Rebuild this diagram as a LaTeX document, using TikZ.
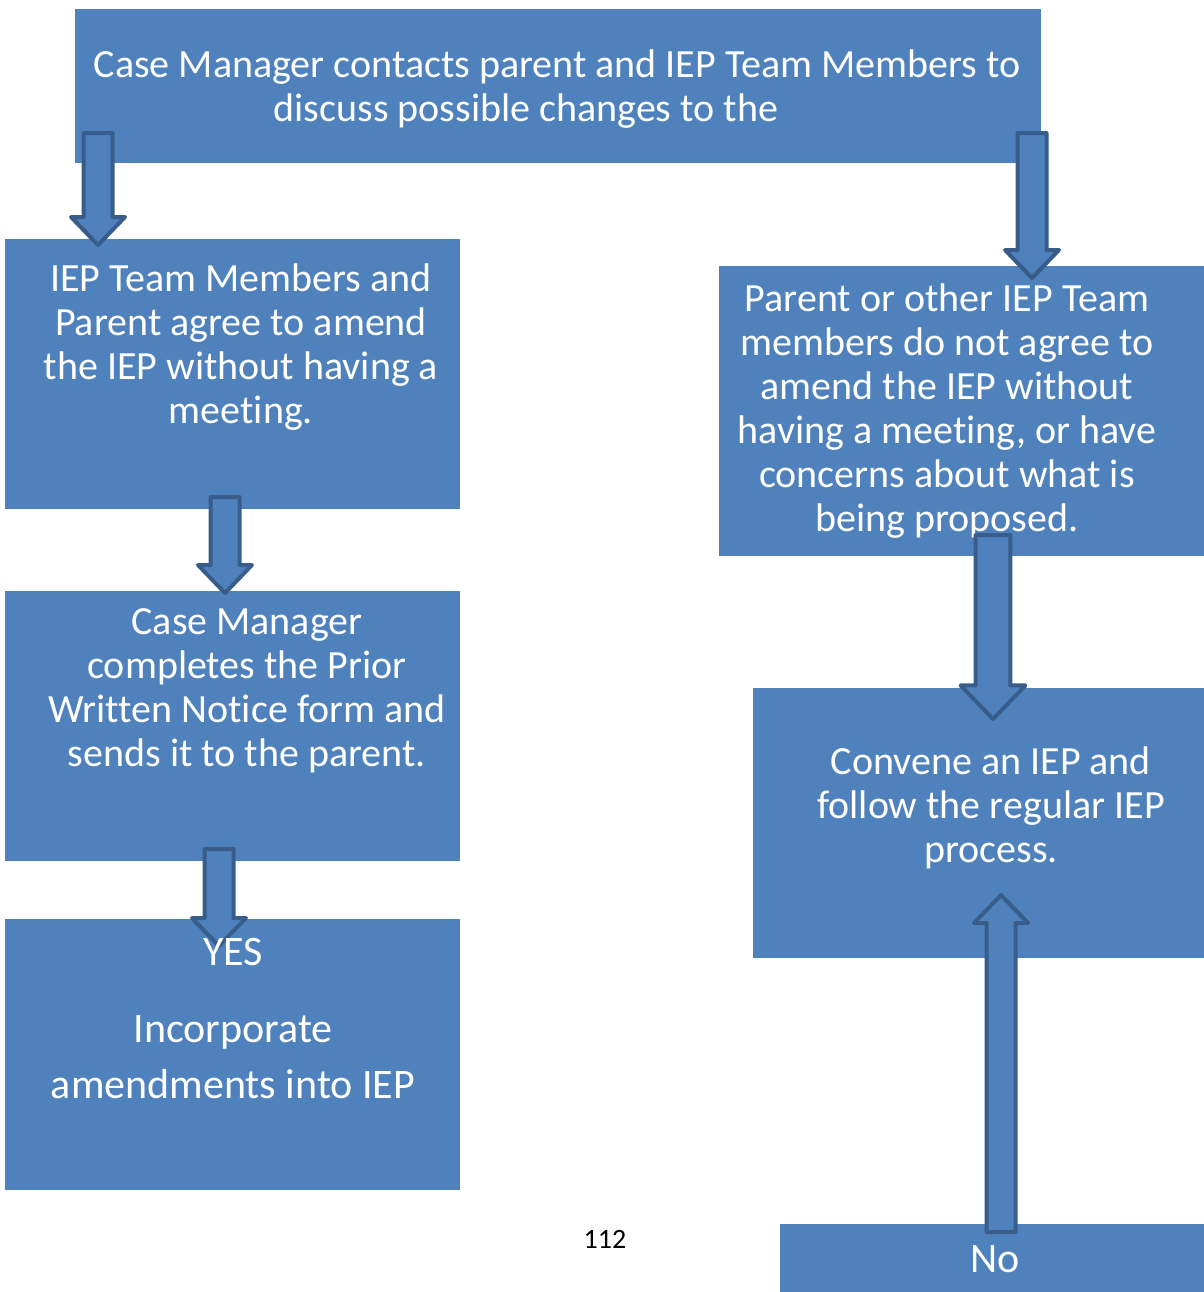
\documentclass[tikz,border=0pt]{standalone}
\usepackage{fontspec}
\setmainfont{Carlito}[Ligatures=NoCommon]
\usetikzlibrary{positioning,calc}
\definecolor{boxblue}{HTML}{4F81BD}
\definecolor{arrowedge}{HTML}{385D8A}
\tikzset{
  stepbox/.style={fill=boxblue, draw=none, inner sep=0pt},
  boxtext/.style={text=white, align=center, inner sep=0pt,
    font=\fontsize{20}{22}\selectfont},
  blockarrow/.style={fill=boxblue, draw=arrowedge, line width=2pt, line join=round}
}
% fat outlined arrow from #2 to the tip #3, #1 scales it
\newcommand{\blockarrow}[3][1]{%
  \coordinate (ba-base) at ($(#3)!#1*14pt!(#2)$);
  \draw[blockarrow] ($(#2)!#1*7.25pt!90:(#3)$) -- ($(ba-base)!#1*7.25pt!90:(#3)$)
    -- ($(ba-base)!#1*13.5pt!90:(#3)$) -- (#3) -- ($(ba-base)!#1*13.5pt!-90:(#3)$)
    -- ($(ba-base)!#1*7.25pt!-90:(#3)$) -- ($(#2)!#1*7.25pt!-90:(#3)$) -- cycle;
}

\begin{document}
\begin{tikzpicture}[x=0.5pt, y=-0.5pt]
  \useasboundingbox (0,0) rectangle (1204,1292);

  % boxes
  \node[stepbox, anchor=north west, minimum width=483pt, minimum height=77pt] (contact) at (75,9) {};
  \node[stepbox, anchor=north west, minimum width=227.5pt, minimum height=135pt] (agree) at (5,239) {};
  \node[stepbox, below=40.5pt of agree, minimum width=227.5pt, minimum height=135pt] (notice) {};
  \node[stepbox, below=28.5pt of notice, minimum width=227.5pt, minimum height=135.5pt] (incorp) {};
  \node[stepbox, anchor=north west, minimum width=242.5pt, minimum height=145pt] (disagree) at (719,266) {};
  \node[stepbox, anchor=north west, minimum width=225.5pt, minimum height=135pt] (convene) at (753,688) {};
  \node[stepbox, anchor=north west, minimum width=212pt, minimum height=34pt] (no) at (780,1224) {};

  % texts
  \node[boxtext] (contact-t) at (557,89) {Case Manager contacts parent and IEP Team Members to\\discuss possible changes to the\hspace*{31pt}};
  \node[boxtext] (agree-t) at (241,347) {IEP Team Members and\\Parent agree to amend\\the IEP without having a\\meeting.};
  \node[boxtext] (notice-t) at (247,691) {Case Manager\\completes the Prior\\Written Notice form and\\sends it to the parent.};
  \node[boxtext] (disagree-t) at (947,411) {Parent or other IEP Team\\members do not agree to\\amend the IEP without\\having a meeting, or have\\concerns about what is\\being proposed.};
  \node[boxtext] (convene-t) at (991,808) {Convene an IEP and\\follow the regular IEP\\process.};
  \node[boxtext, font=\fontsize{21}{22}\selectfont] (no-t) at (995,1259) {No};
  \node[font=\fontsize{14}{16}\selectfont, inner sep=0pt] (page) at (605,1239) {112};

  % arrow ends
  \coordinate (a1s) at (98,133);   \coordinate (a1e) at (98,245);
  \coordinate (a2s) at (225,497);  \coordinate (a2e) at (225,593);
  \coordinate (a3s) at (219,849);  \coordinate (a3e) at (219,946);
  \coordinate (a4s) at (1032,133); \coordinate (a4e) at (1032,278);
  \coordinate (a5s) at (993,535);  \coordinate (a5e) at (993,719);
  \coordinate (a6s) at (1001,1232);\coordinate (a6e) at (1001,895);

  \blockarrow{a1s}{a1e}
  \blockarrow{a2s}{a2e}
  \blockarrow{a3s}{a3e}
  \blockarrow{a4s}{a4e}
  \blockarrow[1.2]{a5s}{a5e}
  \blockarrow{a6s}{a6e}

  \node[boxtext, font=\fontsize{21}{22}\selectfont] (incorp-t) at (233,1019) {YES\\[16.5pt]Incorporate\\[6pt]amendments into IEP};
\end{tikzpicture}
\end{document}
